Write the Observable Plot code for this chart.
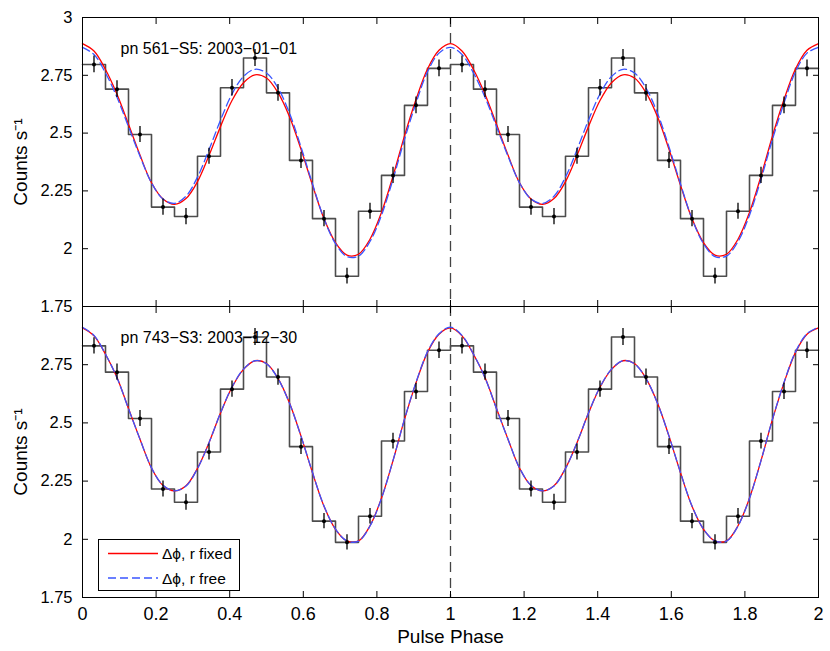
<!DOCTYPE html>
<html>
<head>
<meta charset="utf-8">
<script src="https://cdn.jsdelivr.net/npm/d3@7"></script>
<script src="https://cdn.jsdelivr.net/npm/@observablehq/plot@0.6"></script>
<style>
  body { margin: 0; background: #fff; }
  #wrap { position: relative; width: 830px; height: 651px; font-family: "Liberation Sans", Arial, Helvetica, sans-serif; }
  #wrap svg { position: absolute; left: 0; }
</style>
</head>
<body>
<div id="wrap"></div>
<script>
// ---------------- data ----------------
const binsPerCycle = 16;
const cycles = [0, 1];

// binned light curve, one cycle (16 phase bins), drawn twice
const topCounts    = [2.797, 2.690, 2.494, 2.180, 2.139, 2.400, 2.696, 2.825, 2.674, 2.382, 2.130, 1.881, 2.162, 2.317, 2.620, 2.780];
const topErrors    = [0.036, 0.036, 0.035, 0.035, 0.035, 0.035, 0.036, 0.037, 0.036, 0.035, 0.035, 0.034, 0.035, 0.035, 0.036, 0.036];
const bottomCounts = [2.831, 2.718, 2.519, 2.216, 2.159, 2.375, 2.645, 2.869, 2.697, 2.398, 2.078, 1.987, 2.099, 2.422, 2.635, 2.812];
const bottomErrors = [0.035, 0.035, 0.034, 0.034, 0.034, 0.034, 0.035, 0.036, 0.035, 0.034, 0.033, 0.033, 0.033, 0.034, 0.035, 0.035];

// fitted model curves, sampled over one cycle
const curvePhase = [0, 0.03125, 0.0625, 0.09375, 0.125, 0.15625, 0.1875, 0.21875, 0.25, 0.28125, 0.3125, 0.34375, 0.375, 0.40625, 0.4375, 0.46875, 0.5,
                    0.53125, 0.5625, 0.59375, 0.625, 0.65625, 0.6875, 0.71875, 0.75, 0.78125, 0.8125, 0.84375, 0.875, 0.90625, 0.9375, 0.96875, 1];
const topFixed    = [2.887, 2.855, 2.775, 2.668, 2.538, 2.405, 2.285, 2.215, 2.192, 2.217, 2.290, 2.403, 2.528, 2.641, 2.718, 2.752, 2.738,
                     2.675, 2.571, 2.430, 2.275, 2.130, 2.026, 1.972, 1.976, 2.041, 2.157, 2.314, 2.488, 2.645, 2.777, 2.858, 2.887];
const topFree     = [2.871, 2.840, 2.760, 2.655, 2.528, 2.400, 2.285, 2.215, 2.196, 2.227, 2.310, 2.428, 2.556, 2.669, 2.745, 2.776, 2.760,
                     2.695, 2.586, 2.440, 2.280, 2.130, 2.022, 1.966, 1.968, 2.031, 2.145, 2.300, 2.473, 2.630, 2.765, 2.846, 2.871];
const bottomFixed = [2.908, 2.874, 2.795, 2.695, 2.562, 2.430, 2.306, 2.231, 2.208, 2.230, 2.305, 2.415, 2.542, 2.653, 2.730, 2.767, 2.755,
                     2.691, 2.585, 2.443, 2.286, 2.142, 2.043, 1.993, 1.993, 2.058, 2.177, 2.338, 2.515, 2.672, 2.803, 2.881, 2.908];
const bottomFree  = [2.911, 2.876, 2.795, 2.694, 2.561, 2.430, 2.307, 2.232, 2.208, 2.229, 2.304, 2.415, 2.543, 2.654, 2.731, 2.767, 2.754,
                     2.690, 2.584, 2.443, 2.287, 2.143, 2.044, 1.993, 1.992, 2.057, 2.176, 2.338, 2.516, 2.674, 2.805, 2.883, 2.911];

const xTicks = [0, 0.2, 0.4, 0.6, 0.8, 1, 1.2, 1.4, 1.6, 1.8, 2];
const yTicksTop = [1.75, 2, 2.25, 2.5, 2.75, 3];
const yTicksBottom = [1.75, 2, 2.25, 2.5, 2.75];
const referencePhase = [1];
const panelLabels = ["pn 561\u2212S5: 2003\u221201\u221201", "pn 743\u2212S3: 2003\u221212\u221230"];
const legendLabels = ["\u0394\u03d5, r fixed", "\u0394\u03d5, r free"];
const yLabel = "Counts s\u207b\u00b9";
const xLabel = "Pulse Phase";

// ---------------- helpers ----------------
const FONT = '"Liberation Sans", Arial, Helvetica, sans-serif';
const RED = "#ff0000";
const BLUE = "#3a55ff";

function binTable(counts, errors) {
  const rows = [];
  for (const c of cycles) counts.forEach((v, i) => rows.push({x0: c + i / binsPerCycle, x: c + (i + 0.5) / binsPerCycle, v, e: errors[i]}));
  return rows;
}
function stepTable(rows) {
  const last = rows[rows.length - 1];
  return [...rows.map(r => ({x: r.x0, v: r.v})), {x: cycles.length, v: last.v}];
}
function curveTable(vals) {
  const out = [];
  for (const c of cycles) vals.forEach((v, i) => { if (c > 0 && i === 0) return; out.push({x: c + curvePhase[i], v}); });
  return out;
}

function panel({counts, errors, fixed, free, label, yTicks, bottom}) {
  const bins = binTable(counts, errors);
  const fmt = d => String(d);
  return Plot.plot({
    width: 830,
    height: bottom ? 346 : 307,
    marginLeft: 82, marginRight: 12,
    marginTop: bottom ? 1 : 17,
    marginBottom: bottom ? 54 : 1,
    x: {domain: [0, 2], label: null},
    y: {domain: [1.75, 3], label: null},
    style: {fontFamily: FONT, fontSize: "16px", color: "black", background: "transparent", overflow: "visible"},
    marks: [
      Plot.ruleX(referencePhase, {stroke: "#444", strokeWidth: 1.3, strokeDasharray: "10,6"}),
      Plot.line(stepTable(bins), {x: "x", y: "v", curve: "step-after", stroke: "#4d4d4d", strokeWidth: 1.6}),
      Plot.line(curveTable(fixed), {x: "x", y: "v", curve: "catmull-rom", stroke: RED, strokeWidth: 1.3}),
      Plot.line(curveTable(free), {x: "x", y: "v", curve: "catmull-rom", stroke: BLUE, strokeWidth: 1.3, strokeDasharray: "8,4"}),
      Plot.ruleX(bins, {x: "x", y1: d => d.v - d.e, y2: d => d.v + d.e, stroke: "black", strokeWidth: 1.3}),
      Plot.dot(bins, {x: "x", y: "v", r: 2, fill: "black", stroke: null}),
      Plot.text([label], {frameAnchor: "top-left", dx: 38, dy: 25, textAnchor: "start", fontSize: 16, fill: "black"}),
      Plot.text([yLabel], {frameAnchor: "left", dx: -69, rotate: -90, textAnchor: "middle", lineAnchor: "top", fontSize: 19, fill: "black"}),
      ...(bottom ? [Plot.text([xLabel], {frameAnchor: "bottom", dy: 32, lineAnchor: "top", fontSize: 19, fill: "black"})] : []),
      Plot.axisX(xTicks, {anchor: "bottom", tickSize: -6, tickPadding: 16, tickFormat: bottom ? fmt : () => "", fontSize: 18, label: null}),
      Plot.axisX(xTicks, {anchor: "top", tickSize: -6, tickFormat: () => "", label: null}),
      Plot.axisY(yTicks, {anchor: "left", tickSize: -6, tickPadding: 16, tickFormat: fmt, fontSize: 16.5, label: null}),
      Plot.axisY(yTicks, {anchor: "right", tickSize: -6, tickFormat: () => "", label: null}),
      Plot.frame({stroke: "black", strokeWidth: 1})
    ]
  });
}

const wrap = document.getElementById("wrap");
const topPlot = panel({counts: topCounts, errors: topErrors, fixed: topFixed, free: topFree, label: panelLabels[0], yTicks: yTicksTop, bottom: false});
topPlot.style.top = "0px";
wrap.appendChild(topPlot);
const bottomPlot = panel({counts: bottomCounts, errors: bottomErrors, fixed: bottomFixed, free: bottomFree, label: panelLabels[1], yTicks: yTicksBottom, bottom: true});
bottomPlot.style.top = "305px";
wrap.appendChild(bottomPlot);

// legend box inside lower panel
const legendItems = [
  {label: legendLabels[0], stroke: RED, dash: null},
  {label: legendLabels[1], stroke: BLUE, dash: "8,4"}
];
const leg = d3.select(wrap).append("svg")
  .attr("width", 830).attr("height", 651)
  .style("top", "0px").style("pointer-events", "none");
leg.append("rect").attr("x", 98.5).attr("y", 539.5).attr("width", 141).attr("height", 51)
  .attr("fill", "white").attr("stroke", "black").attr("stroke-width", 1);
const rows = leg.selectAll("g.item").data(legendItems).join("g")
  .attr("transform", (d, i) => `translate(0,${553.5 + i * 24.5})`);
rows.append("line").attr("x1", 108).attr("x2", 158).attr("y1", 0).attr("y2", 0)
  .attr("stroke", d => d.stroke).attr("stroke-width", 1.3).attr("stroke-dasharray", d => d.dash);
rows.append("text").attr("x", 162).attr("y", 5.5).text(d => d.label)
  .attr("font-family", FONT).attr("font-size", 15.5).attr("fill", "black");
</script>
</body>
</html>
